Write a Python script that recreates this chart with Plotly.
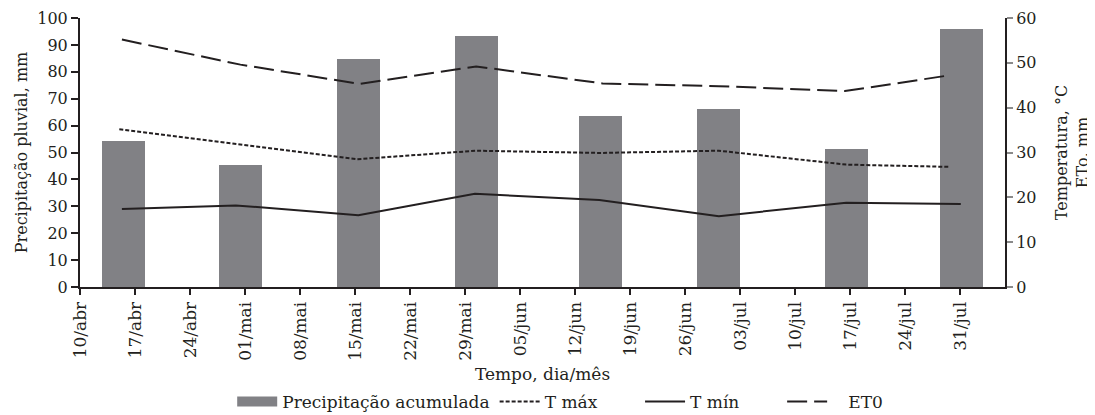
import plotly.graph_objects as go

# ---- data ----
bar_dates = ["2019-04-15 12:00", "2019-04-30 10:00", "2019-05-15 10:00", "2019-05-30 10:00",
             "2019-06-15 05:00", "2019-06-30 07:00", "2019-07-16 12:00", "2019-07-31 05:00"]
precip = [54.3, 45.3, 84.6, 93.3, 63.5, 66.3, 51.2, 95.8]

et0_dates = ["2019-04-15 08:00", "2019-04-30 10:00", "2019-05-15 14:00", "2019-05-30 10:00",
             "2019-06-15 12:00", "2019-06-30 07:00", "2019-07-16 08:00", "2019-07-29 05:00"]
et0 = [55.2, 49.6, 45.3, 49.2, 45.4, 44.8, 43.7, 47.1]

tmax_dates = ["2019-04-15 00:00", "2019-04-30 10:00", "2019-05-15 06:00", "2019-05-30 10:00",
              "2019-06-15 05:00", "2019-06-30 07:00", "2019-07-16 12:00", "2019-07-29 12:00"]
tmax = [35.2, 31.8, 28.5, 30.4, 29.9, 30.4, 27.3, 26.8]

tmin_dates = ["2019-04-15 08:00", "2019-04-29 20:00", "2019-05-15 10:00", "2019-05-30 06:00",
              "2019-06-15 02:00", "2019-06-30 07:00", "2019-07-16 12:00", "2019-07-31 02:00"]
tmin = [17.4, 18.2, 16.0, 20.8, 19.4, 15.8, 18.8, 18.5]

tick_dates = ["2019-04-10", "2019-04-17", "2019-04-24", "2019-05-01", "2019-05-08", "2019-05-15",
              "2019-05-22", "2019-05-29", "2019-06-05", "2019-06-12", "2019-06-19", "2019-06-26",
              "2019-07-03", "2019-07-10", "2019-07-17", "2019-07-24", "2019-07-31"]
tick_labels = ["10/abr", "17/abr", "24/abr", "01/mai", "08/mai", "15/mai", "22/mai", "29/mai",
               "05/jun", "12/jun", "19/jun", "26/jun", "03/jul", "10/jul", "17/jul", "24/jul", "31/jul"]

FONT = "DejaVu Serif"
DARK = "#231f20"
BAR_COLOR = "#818185"
BAR_WIDTH_MS = 5.5 * 86400000
NB = "\u00a0"

fig = go.Figure()
fig.add_trace(go.Bar(x=bar_dates, y=precip, name="Precipitação acumulada", showlegend=False,
                     marker=dict(color=BAR_COLOR, line=dict(width=0)),
                     width=[BAR_WIDTH_MS] * len(precip)))
# legend proxy for the bars (wide swatch)
fig.add_trace(go.Scatter(x=[None], y=[None], name="Precipitação acumulada", mode="lines",
                         line=dict(color=BAR_COLOR, width=13)))
fig.add_trace(go.Scatter(x=tmax_dates, y=tmax, name="T máx" + NB * 7, mode="lines", yaxis="y2",
                         line=dict(color=DARK, width=2, dash="4px,2px")))
fig.add_trace(go.Scatter(x=tmin_dates, y=tmin, name="T mín" + NB * 7, mode="lines", yaxis="y2",
                         line=dict(color=DARK, width=2)))
fig.add_trace(go.Scatter(x=et0_dates, y=et0, name=NB * 3 + "ET0", mode="lines", yaxis="y2",
                         line=dict(color=DARK, width=2, dash="20px,7px")))

# page body has an 8px margin: figure is sized/offset to compensate
fig.update_layout(
    width=1087, height=407,
    margin=dict(l=72, r=90, t=10, b=128),
    paper_bgcolor="white", plot_bgcolor="white",
    font=dict(family=FONT, size=16, color=DARK),
    showlegend=True,
    legend=dict(orientation="h", xref="container", yref="container",
                x=0.508, xanchor="center", y=0.032, yanchor="middle",
                font=dict(size=17), itemwidth=40, traceorder="normal"),
    xaxis=dict(type="date", range=["2019-04-10", "2019-08-05 17:00"], automargin=False,
               tickvals=tick_dates, ticktext=tick_labels, tickangle=-90,
               ticks="outside", ticklen=6, tickwidth=2, tickcolor=DARK,
               showline=True, linecolor=DARK, linewidth=2, showgrid=False, zeroline=False,
               title=dict(text="Tempo, dia/mês", font=dict(size=17), standoff=8),
               tickfont=dict(size=17)),
    yaxis=dict(range=[0, 100], tickvals=list(range(0, 101, 10)), automargin=False,
               ticklabeloverflow="allow",
               ticks="outside", ticklen=7, tickwidth=2, tickcolor=DARK,
               showline=True, linecolor=DARK, linewidth=2, showgrid=False, zeroline=False,
               title=dict(text="Precipitação pluvial, mm", font=dict(size=16), standoff=6),
               tickfont=dict(size=16)),
    yaxis2=dict(range=[0, 60], tickvals=list(range(0, 61, 10)), overlaying="y", side="right",
                automargin=False, ticklabeloverflow="allow",
                ticks="outside", ticklen=6, tickwidth=2, tickcolor="#8a8a8a",
                showline=True, linecolor=DARK, linewidth=2, showgrid=False, zeroline=False,
                title=dict(text="Temperatura, °C<br>ETo, mm", font=dict(size=16), standoff=20),
                tickfont=dict(size=16)),
    bargap=0,
)

fig.write_html("out.html")
